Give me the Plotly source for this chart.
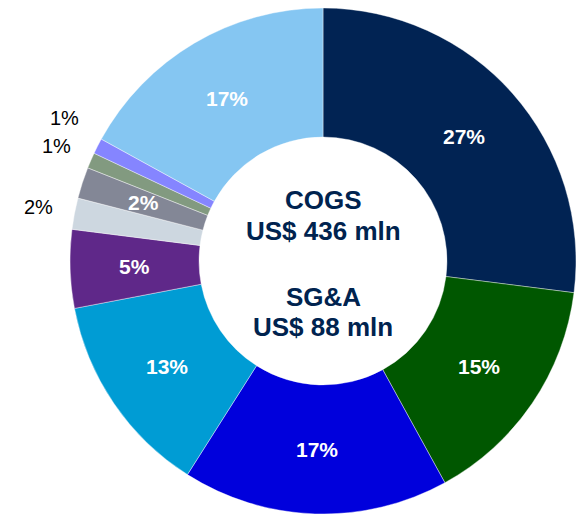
import math
import plotly.graph_objects as go

# Cost breakdown shares (%), clockwise from 12 o'clock
categories = ["Segment A", "Segment B", "Segment C", "Segment D", "Segment E",
              "Segment F", "Segment G", "Segment H", "Segment I", "Segment J"]
shares = [27, 15, 17, 13, 5, 2, 2, 1, 1, 17]
colors = ["#012353", "#005700", "#0000DC", "#009CD4", "#5F2889",
          "#CDD7E0", "#838796", "#829A80", "#8585FF", "#85C6F2"]
# which slices carry their label outside the ring
outside = [False, False, False, False, False, True, False, True, True, False]

center_lines = ["COGS", "US$ 436 mln", "SG&A", "US$ 88 mln"]
center_offsets = [-61, -30, 36, 66]

FONT = "Arial, Liberation Sans"
W, H = 577, 514
cx, cy, r = 323, 261, 253
hole = 0.49
# extra vertical spacing so the two tiny outside labels don't collide
outside_shift = {8: -11}

fig = go.Figure(go.Pie(
    labels=categories,
    values=shares,
    sort=False,
    direction="clockwise",
    hole=hole,
    marker=dict(colors=colors, line=dict(color="white", width=0.4)),
    textinfo="none",
    hoverinfo="label+value",
    showlegend=False,
    domain=dict(x=[(cx - r) / W, (cx + r) / W], y=[(H - cy - r) / H, (H - cy + r) / H]),
))

# Percentage labels placed at each slice's mid-angle
total = sum(shares)
cum = 0.0
for i, (val, out) in enumerate(zip(shares, outside)):
    theta = 2 * math.pi * (cum + val / 2) / total
    cum += val
    rad = 290 if out else r * (1 + hole) / 2
    px = cx + rad * math.sin(theta)
    py = cy - rad * math.cos(theta) + outside_shift.get(i, 0)
    fig.add_annotation(
        x=px / W, y=1 - py / H, xref="paper", yref="paper",
        xanchor="center", yanchor="middle",
        text=f"{val}%" if out else f"<b>{val}%</b>", showarrow=False,
        font=dict(family=FONT, size=20 if out else 21, color="black" if out else "white"),
    )

# Totals in the middle of the ring
for line, dy in zip(center_lines, center_offsets):
    fig.add_annotation(
        x=cx / W, y=1 - (cy + dy) / H, xref="paper", yref="paper",
        xanchor="center", yanchor="middle",
        text=f"<b>{line}</b>", showarrow=False,
        font=dict(family=FONT, size=26, color="#00234F"),
    )

fig.update_layout(
    width=W, height=H,
    margin=dict(l=0, r=0, t=0, b=0),
    paper_bgcolor="white",
    plot_bgcolor="white",
)

fig.write_html("out.html")
